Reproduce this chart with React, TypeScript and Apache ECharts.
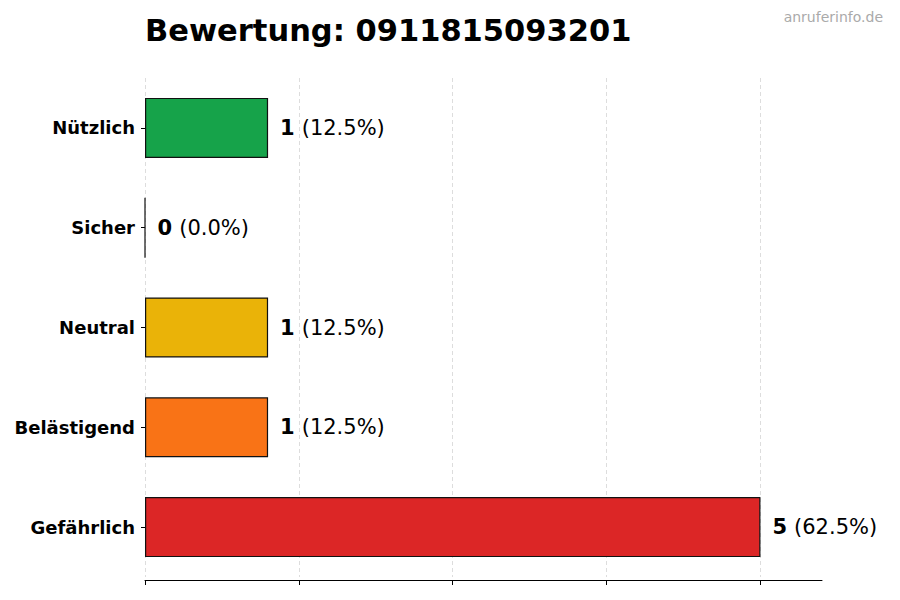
import React, { useEffect, useRef } from "react";
import * as echarts from "echarts";

const categories = ["Nützlich", "Sicher", "Neutral", "Belästigend", "Gefährlich"];
const counts = [1, 0, 1, 1, 5];
const barColors = ["#16a34a", "#16a34a", "#eab308", "#f97316", "#dc2626"];
const xTicks = [0, 1.25, 2.5, 3.75, 5];

const titleText = "Bewertung: 0911815093201";
const watermark = "anruferinfo.de";
const font = "DejaVu Sans";

const App: React.FC = () => {
    const chartRef = useRef<HTMLDivElement>(null);

    useEffect(() => {
        document.body.style.margin = "0";
        if (!chartRef.current) return;
        const chart = echarts.init(chartRef.current, undefined, { renderer: "svg" });
        const total = counts.reduce((a, b) => a + b, 0);

        chart.setOption({
            animation: false,
            backgroundColor: "#ffffff",
            title: {
                text: titleText,
                left: 140,
                top: 10,
                textStyle: {
                    fontFamily: font,
                    fontSize: 30.5,
                    fontWeight: "bold",
                    color: "#000000"
                }
            },
            graphic: [
                {
                    type: "text",
                    right: 17,
                    top: 10,
                    style: {
                        text: watermark,
                        font: `14px '${font}'`,
                        fill: "#aaaaaa"
                    }
                }
            ],
            grid: {
                left: 145,
                right: 78,
                top: 78,
                height: 499
            },
            xAxis: {
                type: "value",
                min: 0,
                max: 5.5,
                interval: 1.25,
                offset: 3,
                axisLine: {
                    show: true,
                    lineStyle: { color: "#000000", width: 1 }
                },
                axisTick: {
                    show: true,
                    length: 5,
                    customValues: xTicks,
                    lineStyle: { color: "#000000" }
                },
                axisLabel: { show: false },
                splitLine: {
                    show: true,
                    lineStyle: { color: "#dddddd", type: [4, 3], width: 1 }
                }
            },
            yAxis: {
                type: "category",
                inverse: true,
                data: categories,
                axisLine: { show: false },
                axisTick: {
                    show: true,
                    alignWithLabel: true,
                    length: 4,
                    lineStyle: { color: "#000000" }
                },
                axisLabel: {
                    margin: 10,
                    fontFamily: font,
                    fontSize: 18,
                    fontWeight: "bold",
                    color: "#000000"
                },
                splitLine: { show: false }
            },
            series: [
                {
                    type: "bar",
                    barWidth: 60,
                    data: counts.map((v, i) => ({
                        value: v,
                        itemStyle: {
                            color: barColors[i],
                            borderColor: "#111111",
                            borderWidth: 1.2
                        }
                    })),
                    label: {
                        show: true,
                        position: "right",
                        distance: 12,
                        formatter: (p: any) =>
                            `{v|${p.value}}{s| }{n|(${((p.value / total) * 100).toFixed(1)}%)}`,
                        rich: {
                            v: {
                                fontFamily: font,
                                fontSize: 21,
                                fontWeight: "bold",
                                color: "#000000"
                            },
                            s: {
                                fontFamily: font,
                                fontSize: 21,
                                width: 7
                            },
                            n: {
                                fontFamily: font,
                                fontSize: 21,
                                color: "#000000"
                            }
                        }
                    }
                }
            ]
        });

        return () => {
            chart.dispose();
        };
    }, []);

    return <div ref={chartRef} style={{ width: 900, height: 600 }} />;
};

export default App;
